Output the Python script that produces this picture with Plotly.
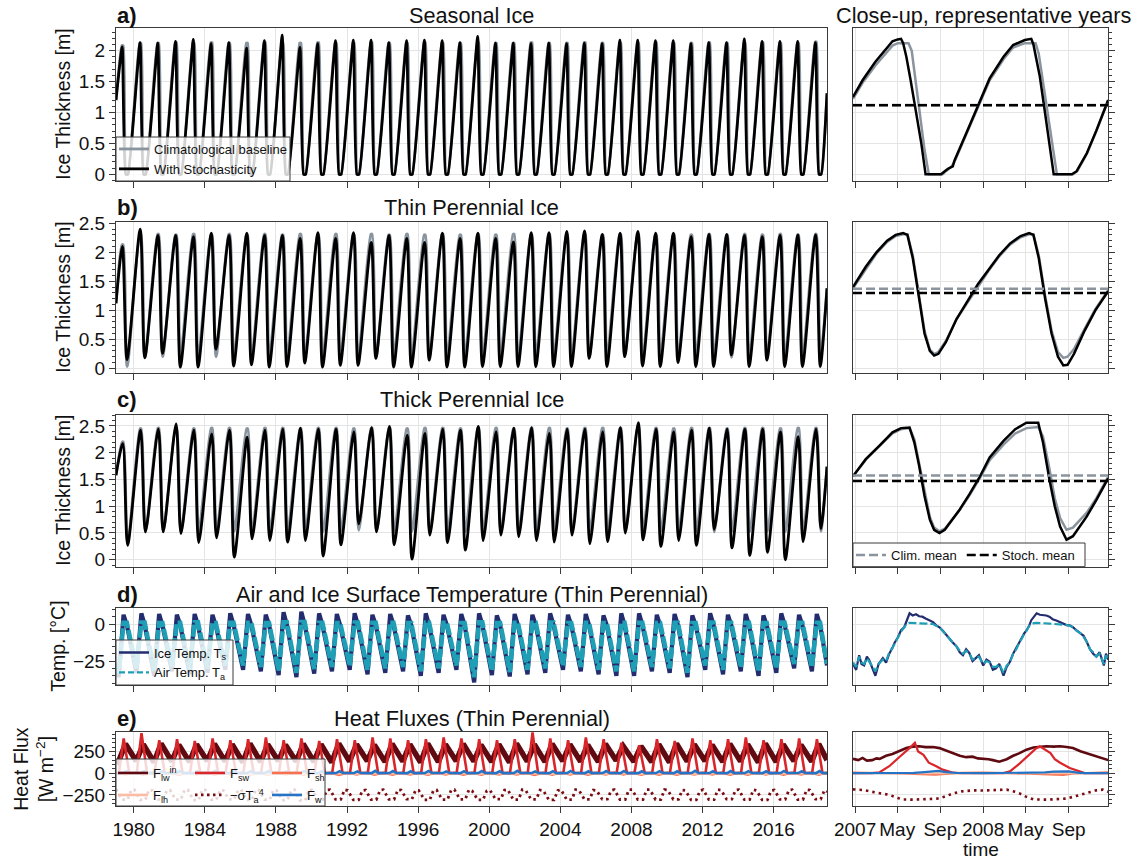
import pandas as pd
import plotly.graph_objects as go

# ---------------------------------------------------------------------------
# Data
# ---------------------------------------------------------------------------
YEARS = list(range(1979, 2019))

# Seasonal ice: annual maximum thickness [m] (minimum is ice free every summer)
SEAS_PEAK_STOCH = [2.06, 2.13, 2.12, 2.15, 2.18, 2.11, 2.13, 2.04, 2.16, 2.25,
                   2.05, 2.11, 2.16, 2.17, 2.17, 2.13, 2.16, 2.17, 2.16, 2.13,
                   2.23, 2.12, 2.12, 2.11, 2.12, 2.11, 2.12, 2.11, 2.17, 2.17,
                   2.16, 2.16, 2.11, 2.13, 2.13, 2.19, 2.15, 2.15, 2.15, 2.13]
SEAS_PEAK_CLIM = [2.08, 2.12, 2.12, 2.13, 2.12, 2.13, 2.12, 2.12, 2.13, 2.12,
                  2.12, 2.13, 2.12, 2.12, 2.13, 2.12, 2.12, 2.13, 2.12, 2.12,
                  2.13, 2.12, 2.12, 2.13, 2.12, 2.12, 2.13, 2.12, 2.12, 2.12,
                  2.13, 2.12, 2.12, 2.13, 2.12, 2.12, 2.13, 2.12, 2.12, 2.14]
ICE_FREE = 0.0
SEAS_START, SEAS_END = 1.20, 1.31

# Thin perennial ice: annual max / min thickness [m]
THIN_PEAK_STOCH = [2.10, 2.40, 2.29, 2.29, 2.27, 2.33, 2.29, 2.33, 2.29, 2.29,
                   2.24, 2.34, 2.24, 2.34, 2.17, 2.29, 2.24, 2.17, 2.33, 2.24,
                   2.33, 2.24, 2.18, 2.34, 2.34, 2.36, 2.37, 2.31, 2.33, 2.36,
                   2.33, 2.33, 2.27, 2.31, 2.31, 2.29, 2.27, 2.29, 2.30, 2.30]
THIN_LOW_STOCH = [0.15, 0.18, 0.26, 0.02, 0.02, 0.33, 0.04, 0.06, 0.02, 0.03,
                  0.09, 0.02, 0.05, 0.05, 0.17, 0.02, 0.02, 0.14, 0.02, 0.02,
                  0.03, 0.03, 0.03, 0.03, 0.03, 0.03, 0.17, 0.03, 0.20, 0.04,
                  0.03, 0.10, 0.03, 0.03, 0.23, 0.03, 0.14, 0.03, 0.03, 0.03]
THIN_PEAK_CLIM = [2.13, 2.30, 2.31, 2.30, 2.31, 2.30, 2.31, 2.30, 2.31, 2.30,
                  2.31, 2.30, 2.31, 2.30, 2.31, 2.30, 2.31, 2.30, 2.31, 2.30,
                  2.31, 2.30, 2.31, 2.30, 2.31, 2.30, 2.31, 2.30, 2.31, 2.31,
                  2.30, 2.31, 2.30, 2.31, 2.30, 2.31, 2.30, 2.31, 2.30, 2.31]
THIN_LOW_CLIM = [0.03, 0.19, 0.20, 0.20, 0.19, 0.20, 0.20, 0.19, 0.20, 0.20,
                 0.19, 0.20, 0.20, 0.19, 0.20, 0.20, 0.19, 0.20, 0.20, 0.19,
                 0.20, 0.20, 0.19, 0.20, 0.20, 0.19, 0.20, 0.20, 0.24, 0.18,
                 0.20, 0.19, 0.20, 0.20, 0.19, 0.20, 0.20, 0.19, 0.20, 0.20]
THIN_START, THIN_END = 1.12, 1.38

# Thick perennial ice: annual max / min thickness [m]
THICK_PEAK_STOCH = [2.17, 2.42, 2.44, 2.54, 2.42, 2.35, 2.42, 2.29, 2.42, 2.44,
                    2.46, 2.44, 2.44, 2.39, 2.47, 2.49, 2.33, 2.36, 2.44, 2.42,
                    2.49, 2.39, 2.46, 2.47, 2.36, 2.44, 2.44, 2.39, 2.47, 2.56,
                    2.44, 2.39, 2.42, 2.46, 2.44, 2.44, 2.44, 2.39, 2.30, 2.44]
THICK_LOW_STOCH = [0.27, 0.52, 0.52, 0.49, 0.32, 0.41, 0.05, 0.39, 0.36, 0.33,
                   0.36, 0.07, 0.28, 0.67, 0.52, 0.28, 0.01, 0.46, 0.32, 0.18,
                   0.36, 0.46, 0.43, 0.36, 0.33, 0.46, 0.30, 0.34, 0.50, 0.37,
                   0.25, 0.36, 0.27, 0.57, 0.22, 0.08, 0.14, 0.00, 0.34, 0.58]
THICK_PEAK_CLIM = [2.20, 2.45, 2.46, 2.46, 2.45, 2.46, 2.46, 2.45, 2.46, 2.46,
                   2.45, 2.46, 2.46, 2.45, 2.46, 2.46, 2.45, 2.46, 2.46, 2.45,
                   2.46, 2.46, 2.45, 2.46, 2.46, 2.45, 2.46, 2.46, 2.46, 2.48,
                   2.46, 2.45, 2.46, 2.46, 2.45, 2.46, 2.46, 2.45, 2.46, 2.46]
THICK_LOW_CLIM = [0.30, 0.52, 0.53, 0.52, 0.53, 0.52, 0.53, 0.52, 0.53, 0.52,
                  0.53, 0.52, 0.53, 0.55, 0.53, 0.52, 0.53, 0.52, 0.53, 0.52,
                  0.53, 0.52, 0.53, 0.52, 0.53, 0.52, 0.53, 0.52, 0.53, 0.56,
                  0.53, 0.52, 0.53, 0.52, 0.53, 0.52, 0.53, 0.52, 0.53, 0.53]
THICK_START, THICK_END = 1.58, 1.74

# Surface temperatures (thin perennial) [degC]
TS_MAX = [6.5, 7.5, 7.0, 6.5, 7.0, 6.5, 7.5, 7.0, 6.5, 8.2, 8.6, 7.5, 7.0, 7.5,
          6.5, 7.0, 6.0, 7.5, 6.5, 7.0, 7.5, 6.0, 7.0, 6.5, 7.5, 6.5, 7.0, 6.0,
          7.5, 7.5, 6.5, 7.0, 6.0, 7.5, 6.5, 7.0, 6.0, 7.5, 6.5, 7.0]
TS_AUG = [-0.5, -0.3, -0.6, -0.4, -0.5, -0.7, -0.3, -0.5, -0.4, -0.2, -0.1, -0.5,
          -0.6, -0.4, -0.5, -0.3, -0.7, -0.4, -0.5, -0.6, -0.3, -0.7, -0.4, -0.5,
          -0.3, -0.6, -0.5, -0.7, -0.7, -0.5, -0.6, -0.4, -0.7, -0.3, -0.5, -0.4,
          -0.7, -0.3, -0.5, -0.5]
TS_MIN = [-36, -33, -35, -32, -34, -33, -31, -31, -32, -34.5, -36, -33.5, -32,
          -31, -34, -33, -32, -35, -33, -31, -39.5, -34.5, -35.5, -34, -33, -31,
          -32, -34, -35, -35, -32, -33, -36, -31, -34, -32, -35, -33, -30, -32]
TA_MAX = [1.0, 1.2, 0.8, 1.0, 1.3, 0.9, 1.1, 1.0, 0.8, 1.4, 1.5, 1.0, 0.9, 1.2,
          1.0, 1.1, 0.8, 1.2, 1.0, 0.9, 1.3, 0.8, 1.1, 1.0, 1.2, 0.9, 1.0, 0.8,
          1.0, 1.0, 0.9, 1.1, 0.8, 1.2, 1.0, 1.1, 0.8, 1.2, 1.0, 1.0]
TA_MIN = [-33, -30, -32, -29, -31, -30, -28, -28, -29, -31.5, -33, -30.5, -29,
          -28, -31, -30, -29, -32, -30, -28, -36, -31.5, -32.5, -31, -30, -28,
          -29, -31, -32, -32, -29, -30, -33, -28, -31, -29, -32, -30, -27, -29]
TS_START, TS_END = -28.0, -28.0
TA_START, TA_END = -27.0, -27.0

# Heat fluxes (thin perennial) [W m-2]
FLW_MAX = [335, 330, 340, 325, 330, 335, 330, 340, 330, 325, 335, 330, 340, 330,
           325, 335, 330, 340, 330, 335, 325, 330, 340, 330, 335, 330, 325, 335,
           310, 310, 330, 340, 330, 325, 335, 330, 340, 330, 325, 335]
FLW_MIN = [130, 140, 125, 135, 130, 140, 135, 125, 130, 140, 135, 130, 125, 135,
           140, 130, 135, 125, 130, 140, 135, 130, 125, 135, 130, 140, 135, 130,
           145, 132, 130, 125, 135, 140, 130, 135, 125, 130, 140, 135]
FSW_PEAK = [400, 460, 380, 390, 370, 400, 380, 390, 410, 380, 400, 370, 390, 380,
            410, 400, 380, 390, 410, 400, 390, 380, 390, 470, 400, 380, 410, 390,
            350, 320, 390, 370, 400, 380, 390, 410, 380, 390, 400, 390]
POLAR_NIGHT_SW = 0.0
FSH_WIN = [5, 6, 4, 5, 7, 5, 6, 4, 5, 6, 5, 4, 6, 5, 7, 5, 4, 6, 5, 5,
           6, 4, 5, 6, 5, 7, 4, 5, 8, 5, 6, 5, 4, 6, 5, 5, 7, 4, 6, 5]
FSH_SUM = [-18, -20, -15, -22, -18, -20, -16, -19, -21, -17, -20, -18, -22, -16,
           -19, -20, -18, -21, -17, -19, -20, -18, -16, -22, -19, -18, -20, -17,
           -18, -20, -19, -21, -17, -18, -20, -19, -16, -21, -18, -20]
FLH_WIN = [-1, 0, -1, 0, -1, 0, 0, -1, 0, -1, 0, 0, -1, 0, -1, 0, 0, -1, 0, -1,
           0, -1, 0, 0, -1, 0, -1, 0, 0, 0, -1, 0, -1, 0, 0, -1, 0, -1, 0, 0]
FLH_SUM = [-7, -8, -6, -7, -8, -6, -7, -8, -7, -6, -8, -7, -6, -8, -7, -7, -6,
           -8, -7, -6, -8, -7, -6, -7, -8, -7, -6, -8, -6, -8, -7, -6, -8, -7,
           -6, -7, -8, -6, -7, -8]
FW_WIN = [1, 0, 1, 1, 0, 1, 0, 1, 1, 0, 1, 0, 1, 1, 0, 1, 0, 1, 1, 0,
          1, 0, 1, 1, 0, 1, 0, 1, 0, 0, 1, 0, 1, 1, 0, 1, 0, 1, 1, 0]
FW_SUM = [22, 24, 20, 25, 22, 26, 21, 23, 24, 20, 25, 22, 23, 21, 26, 24, 22, 25,
          21, 23, 24, 22, 26, 20, 23, 25, 21, 24, 25, 22, 23, 21, 26, 22, 24, 23,
          21, 25, 22, 24]
SIG_WIN = [-195, -190, -200, -195, -190, -195, -200, -190, -195, -200, -190, -195,
           -190, -200, -195, -190, -195, -200, -195, -190, -205, -195, -190, -195,
           -200, -190, -195, -200, -190, -190, -190, -195, -200, -190, -195, -190,
           -200, -195, -190, -195]
SIG_SUM = [-305, -308, -302, -305, -310, -305, -302, -308, -305, -310, -312, -305,
           -302, -308, -305, -302, -300, -308, -305, -302, -308, -300, -305, -302,
           -308, -305, -302, -300, -304, -304, -305, -302, -308, -305, -300, -305,
           -308, -302, -305, -300]
FLUX_START = dict(lw=160, sw=0, sh=6, lh=0, w=0, sig=-190)
FLUX_END = dict(lw=150, sw=0, sh=8, lh=0, w=0, sig=-215)

# Close-up window (months since 2007-01-01)
CU_A_STOCH_M = [-0.2, 0.7, 1.9, 2.9, 3.5, 4.0, 4.3, 4.5, 4.8, 5.2, 5.7, 6.2, 6.6,
                8.05, 8.4, 8.7, 9.15, 9.3, 10.4, 11.7, 12.6, 13.9, 14.8, 15.9,
                16.5, 16.7, 17.3, 17.75, 18.2, 18.6, 20.3, 20.75, 21.7, 22.6, 23.7]
CU_A_STOCH = [1.25, 1.52, 1.82, 2.02, 2.15, 2.18, 2.19, 2.12, 1.90, 1.52, 1.04,
              0.50, 0.00, 0.00, 0.05, 0.09, 0.13, 0.22, 0.66, 1.20, 1.55, 1.90,
              2.09, 2.17, 2.19, 2.10, 1.58, 1.04, 0.44, 0.00, 0.00, 0.05, 0.34,
              0.71, 1.20]
CU_A_CLIM_M = [-0.2, 0.7, 1.9, 2.9, 3.5, 4.0, 5.0, 5.3, 5.6, 6.0, 6.5, 6.9, 8.2,
               8.5, 9.0, 9.3, 10.4, 11.7, 12.6, 13.9, 14.8, 15.9, 16.9, 17.2,
               17.6, 18.1, 18.6, 18.9, 20.4, 20.8, 21.7, 22.6, 23.7]
CU_A_CLIM = [1.22, 1.48, 1.76, 1.97, 2.08, 2.12, 2.12, 2.00, 1.60, 1.00, 0.40,
             0.00, 0.00, 0.05, 0.12, 0.20, 0.64, 1.17, 1.52, 1.86, 2.05, 2.12,
             2.12, 1.95, 1.50, 0.90, 0.30, 0.00, 0.00, 0.05, 0.33, 0.70, 1.19]

CU_B_M = [-0.2, 1.0, 2.0, 3.0, 3.8, 4.5, 4.9, 5.4, 6.0, 6.5, 7.0, 7.4, 7.8, 8.5,
          9.5, 10.5, 11.5, 12.5, 13.5, 14.5, 15.5, 16.3, 16.7, 17.2, 17.8, 18.4,
          19.0, 19.5, 19.9, 20.5, 21.5, 22.5, 23.7]
CU_B_STOCH = [1.40, 1.75, 2.00, 2.20, 2.30, 2.33, 2.30, 1.90, 1.20, 0.60, 0.30,
              0.22, 0.25, 0.45, 0.85, 1.15, 1.45, 1.70, 1.95, 2.15, 2.28, 2.33,
              2.30, 1.90, 1.20, 0.60, 0.20, 0.05, 0.06, 0.25, 0.65, 1.00, 1.33]
CU_B_CLIM = [1.38, 1.72, 1.98, 2.18, 2.28, 2.31, 2.31, 1.95, 1.25, 0.65, 0.32,
             0.25, 0.28, 0.47, 0.85, 1.13, 1.42, 1.68, 1.93, 2.13, 2.26, 2.31,
             2.31, 1.95, 1.25, 0.65, 0.28, 0.18, 0.20, 0.33, 0.68, 1.02, 1.34]

CU_C_M = [-0.2, 1.0, 2.26, 3.5, 4.3, 5.1, 5.55, 6.0, 6.5, 7.0, 7.4, 7.9, 8.4, 9.8,
          10.7, 11.7, 12.6, 13.9, 15.0, 16.05, 17.15, 17.6, 18.2, 18.7, 19.2,
          19.8, 20.4, 21.7, 22.6, 23.7]
CU_C_STOCH = [1.56, 1.88, 2.13, 2.38, 2.46, 2.47, 2.19, 1.75, 1.19, 0.75, 0.56,
              0.50, 0.56, 0.94, 1.22, 1.56, 1.91, 2.22, 2.44, 2.56, 2.56, 2.19,
              1.50, 1.00, 0.62, 0.375, 0.44, 0.81, 1.12, 1.52]
CU_C_CLIM = [1.56, 1.87, 2.12, 2.36, 2.44, 2.46, 2.25, 1.80, 1.25, 0.80, 0.60,
             0.53, 0.58, 0.93, 1.20, 1.53, 1.86, 2.15, 2.36, 2.46, 2.48, 2.30,
             1.70, 1.15, 0.78, 0.56, 0.60, 0.88, 1.15, 1.55]

# Long-term means shown in the close-ups [m]
MEAN_CLIM = [1.12, 1.37, 1.575]
MEAN_STOCH = [1.115, 1.30, 1.47]

CU_T_M = [-0.2, 0.1, 0.38, 0.6, 0.85, 1.1, 1.3, 1.6, 1.9, 2.2, 2.6, 2.9, 3.2,
          3.5, 3.7, 4.0, 4.3, 4.6, 4.8, 5.1, 5.4, 5.7, 6.0, 6.3, 6.6, 7.0, 7.3,
          7.6, 7.9, 8.2, 8.5, 8.8, 9.1, 9.5, 9.8, 10.1, 10.4, 10.7, 11.0, 11.3,
          11.6, 12.0, 12.3, 12.6, 12.9, 13.2, 13.5, 13.9, 14.2, 14.5, 14.8, 15.1,
          15.4, 15.6, 15.85, 16.05, 16.3, 16.5, 16.75, 17.0, 17.3, 17.6, 17.9,
          18.2, 18.5, 18.9, 19.2, 19.5, 19.8, 20.1, 20.4, 20.75, 21.1, 21.4,
          21.7, 22.0, 22.3, 22.6, 22.9, 23.3, 23.5, 23.7]
CU_TS = [-27, -31, -21, -27, -28, -22, -24, -30, -35, -27, -23, -26, -20, -16,
         -12.5, -9, -4, -2, 1.6, 7.5, 6, 6.8, 5.5, 5.2, 4, 2.8, 1.5, -0.7, -2,
         -4.2, -7, -10, -12, -15, -19, -21, -17, -19.6, -25, -23, -21, -28, -24,
         -25.5, -31, -30, -27, -35, -29, -25.5, -20, -16, -12, -9, -6, -4.2, -1,
         2.8, 5, 7.5, 6.5, 6.4, 6, 5.2, 3.5, 2.4, 1.5, 0.5, -0.5, -0.7, -2, -4.2,
         -6, -7.8, -12, -17, -20, -22, -19, -28, -20, -24]
CU_TA = [-26, -29, -22, -26, -27, -23, -25, -29, -32, -27, -24, -25, -19, -16,
         -13, -9, -5, -2, 0, 1, 1, 1, 0.8, 0.8, 0.5, 0.3, 0.2, -1, -2, -4.5, -7,
         -10, -12, -15, -18, -20, -18, -20, -24, -23, -22, -27, -25, -26, -29,
         -29, -27, -33, -28, -26, -20, -17, -12, -10, -6, -4.5, -1, 0, 0.8, 1, 1,
         0.8, 0.8, 0.5, 0.3, 0.2, 0, 0, -0.5, -1, -2, -4.5, -6, -8.5, -12, -17,
         -19, -22, -20, -27, -21, -24]

CU_LW_M = [-0.2, 0.3, 0.7, 1.1, 1.6, 2.0, 2.3, 2.9, 3.5, 4.1, 4.8, 5.4, 6.0, 6.6,
           7.3, 7.9, 8.5, 9.2, 9.8, 10.4, 11.0, 11.5, 12.0, 12.5, 12.9, 13.5,
           14.2, 14.8, 15.4, 16.05, 16.7, 17.3, 17.9, 18.6, 19.2, 19.8, 20.4,
           21.1, 21.7, 22.3, 22.9, 23.3, 23.7]
CU_LW = [165, 150, 175, 145, 150, 170, 165, 200, 220, 253, 290, 305, 310, 300,
         300, 288, 260, 219, 200, 184, 190, 170, 167, 160, 150, 132, 160, 200,
         230, 270, 295, 300, 310, 305, 310, 300, 290, 253, 230, 200, 180, 165, 150]
CU_SW_M = [-0.2, 1.6, 2.3, 3.2, 4.1, 4.7, 5.2, 5.6, 5.9, 6.4, 6.9, 7.6, 8.2, 9.2,
           9.8, 13.9, 14.5, 15.4, 16.3, 16.9, 17.3, 17.8, 18.3, 18.7, 19.2, 20.1,
           21.1, 21.5, 23.7]
CU_SW = [0, 0, 10, 80, 180, 240, 300, 350, 250, 210, 120, 80, 40, 5, 0, 0, 20,
         110, 210, 280, 310, 270, 230, 160, 120, 60, 15, 0, 0]
CU_SH_M = [-0.2, 1.5, 3.0, 4.5, 5.5, 6.5, 7.5, 8.5, 10.0, 12.0, 13.5, 15.0, 16.5,
           17.5, 18.5, 19.5, 20.5, 22.0, 23.7]
CU_SH = [8, 5, 5, -5, -10, -15, -18, -10, 5, 8, 5, 0, -8, -12, -18, -20, -5, 5, 10]
CU_LH_M = [-0.2, 4.0, 6.0, 8.0, 10.0, 12.0, 16.0, 18.0, 20.0, 22.0, 23.7]
CU_LH = [0, -2, -6, -8, -2, 0, -2, -6, -8, -2, 0]
CU_W_M = [-0.2, 4.0, 5.5, 6.5, 7.2, 7.8, 8.5, 9.5, 12.0, 16.5, 17.8, 18.6, 19.3,
          20.0, 20.8, 21.5, 23.7]
CU_W = [0, 0, 3, 12, 22, 25, 12, 2, 0, 0, 8, 18, 22, 20, 6, 1, 0]
CU_SIG_M = [-0.2, 0.8, 1.6, 2.5, 3.2, 4.0, 4.4, 5.5, 6.6, 7.3, 7.9, 8.6, 9.2,
            10.0, 11.0, 12.0, 12.6, 13.5, 14.2, 15.0, 15.4, 16.0, 16.7, 18.0,
            19.0, 19.8, 20.5, 21.1, 22.0, 22.6, 23.2, 23.7]
CU_SIG = [-187, -195, -215, -235, -250, -285, -302, -305, -302, -300, -292, -260,
          -233, -210, -198, -200, -198, -195, -190, -215, -233, -270, -302, -305,
          -300, -292, -270, -250, -215, -198, -190, -215]

MAIN_RANGE = ["1979-01-01", "2019-01-01"]
MAIN_TICK_YEARS = list(range(1980, 2017, 4))
CU_ORIGIN = pd.Timestamp("2007-01-01")
CU_RANGE = ["2006-12-26", "2008-12-22"]
CU_TICKS = ["2007-01-01", "2007-05-01", "2007-09-01", "2008-01-01", "2008-05-01", "2008-09-01"]
CU_TICKTEXT = ["2007", "May", "Sep", "2008", "May", "Sep"]

# ---------------------------------------------------------------------------
# Helpers
# ---------------------------------------------------------------------------
def annual_series(start, end, phases):
    """Connect per-year values placed at fixed calendar dates."""
    xs = [pd.Timestamp(f"{YEARS[0]}-01-01")]
    ys = [start]
    for i, yr in enumerate(YEARS):
        for md, vals in phases:
            v = vals[i] if isinstance(vals, (list, tuple)) else vals
            xs.append(pd.Timestamp(f"{yr}-{md}"))
            ys.append(v)
    xs.append(pd.Timestamp(f"{YEARS[-1] + 1}-01-01"))
    ys.append(end)
    return xs, ys


def cu_dates(months):
    return [CU_ORIGIN + pd.Timedelta(days=m * 30.44) for m in months]


FONT = "Liberation Sans"
INK = "#111111"
FRAME = "#3a3a3a"
GRID = "#e4e4e4"
GRAY = "#8a949e"
BLACK = "#000000"
NAVY = "#232c6e"
TEAL = "#1f9fb6"
C_LW = "#5f0a10"
C_SW = "#d9262a"
C_SH = "#f7704f"
C_LH = "#fcbca4"
C_SIG = "#7a0c12"
C_W = "#2573c4"

W, H = 1141, 860
MAIN_X = (116, 827)
CU_X = (853, 1108)
ROWS = [
    dict(top=28.3, bot=181.0, yr=[-0.108, 2.36], tv=[0, 0.5, 1, 1.5, 2],
         tt=["0", "0.5", "1", "1.5", "2"], minor=0.1),
    dict(top=222.3, bot=373.3, yr=[-0.086, 2.517], tv=[0, 0.5, 1, 1.5, 2, 2.5],
         tt=["0", "0.5", "1", "1.5", "2", "2.5"], minor=0.1),
    dict(top=415.0, bot=566.7, yr=[-0.13, 2.705], tv=[0, 0.5, 1, 1.5, 2, 2.5],
         tt=["0", "0.5", "1", "1.5", "2", "2.5"], minor=0.1),
    dict(top=608.3, bot=685.0, yr=[-41.3, 10.9], tv=[-25, 0],
         tt=["\u221225", "0"], minor=5),
    dict(top=731.7, bot=806.0, yr=[-378, 477], tv=[-250, 0, 250],
         tt=["\u2212250", "0", "250"], minor=50),
]

fig = go.Figure()


def add_line(x, y, ax, color, width, dash=None, name=None, legend=None,
             shape="linear", smoothing=None):
    ln = dict(color=color, width=width, dash=dash, shape=shape)
    if smoothing is not None:
        ln["smoothing"] = smoothing
    fig.add_trace(go.Scatter(
        x=x, y=y, mode="lines", xaxis=f"x{ax}", yaxis=f"y{ax}", line=ln,
        name=name, showlegend=legend is not None,
        legend=legend if legend else "legend", hoverinfo="skip"))


def add_key(name, ax, color, width, legend, dash=None):
    """Legend-only entry (no data points)."""
    fig.add_trace(go.Scatter(
        x=[None], y=[None], mode="lines", xaxis=f"x{ax}", yaxis=f"y{ax}",
        line=dict(color=color, width=width, dash=dash), name=name,
        showlegend=True, legend=legend, hoverinfo="skip"))


# ---------------------------------------------------------------------------
# Ice thickness panels (a-c)
# ---------------------------------------------------------------------------
ice_main = [
    (annual_series(SEAS_START, SEAS_END, [("05-01", SEAS_PEAK_CLIM), ("05-31", SEAS_PEAK_CLIM),
                                           ("07-27", ICE_FREE), ("09-06", ICE_FREE)]),
     annual_series(SEAS_START, SEAS_END, [("05-08", SEAS_PEAK_STOCH), ("07-20", ICE_FREE),
                                           ("09-03", ICE_FREE)])),
    (annual_series(THIN_START, THIN_END, [("05-05", THIN_PEAK_CLIM), ("05-28", THIN_PEAK_CLIM),
                                           ("08-18", THIN_LOW_CLIM)]),
     annual_series(THIN_START, THIN_END, [("05-12", THIN_PEAK_STOCH), ("08-15", THIN_LOW_STOCH)])),
    (annual_series(THICK_START, THICK_END, [("05-10", THICK_PEAK_CLIM), ("06-01", THICK_PEAK_CLIM),
                                             ("08-28", THICK_LOW_CLIM)]),
     annual_series(THICK_START, THICK_END, [("05-20", THICK_PEAK_STOCH), ("08-28", THICK_LOW_STOCH)])),
]
ice_smooth = [0.45, 0.8, 0.8]
ice_cu = [
    ((CU_A_CLIM_M, CU_A_CLIM), (CU_A_STOCH_M, CU_A_STOCH)),
    ((CU_B_M, CU_B_CLIM), (CU_B_M, CU_B_STOCH)),
    ((CU_C_M, CU_C_CLIM), (CU_C_M, CU_C_STOCH)),
]
cu_span = [pd.Timestamp(CU_RANGE[0]), pd.Timestamp(CU_RANGE[1])]

for r in range(3):
    am, ac = 2 * r + 1, 2 * r + 2
    (xc, yc), (xs, ys) = ice_main[r]
    add_line(xc, yc, am, GRAY, 2.8, name="Climatological baseline",
             legend="legend" if r == 0 else None, shape="spline", smoothing=ice_smooth[r])
    add_line(xs, ys, am, BLACK, 2.8, name="With Stochasticity",
             legend="legend" if r == 0 else None, shape="spline", smoothing=ice_smooth[r])
    (mc, vc), (ms, vs) = ice_cu[r]
    add_line(cu_dates(mc), vc, ac, GRAY, 2.5)
    add_line(cu_dates(ms), vs, ac, BLACK, 2.5)
    add_line(cu_span, [MEAN_CLIM[r]] * 2, ac, GRAY, 2.5, dash="9px,4px",
             name="Clim. mean", legend="legend2" if r == 2 else None)
    add_line(cu_span, [MEAN_STOCH[r]] * 2, ac, BLACK, 2.5, dash="9px,4px",
             name="Stoch. mean", legend="legend2" if r == 2 else None)

# ---------------------------------------------------------------------------
# Temperature panel (d)
# ---------------------------------------------------------------------------
ts_x, ts_y = annual_series(TS_START, TS_END, [("02-25", TS_MIN), ("06-05", TS_MAX),
                                              ("08-12", TS_AUG)])
ta_x, ta_y = annual_series(TA_START, TA_END, [("02-25", TA_MIN), ("06-05", TA_MAX),
                                              ("08-12", TA_MAX)])
add_line(ts_x, ts_y, 7, NAVY, 4.2)
add_line(ta_x, ta_y, 7, TEAL, 4.6, dash="12px,2px")
add_line(cu_dates(CU_T_M), CU_TS, 8, NAVY, 2.2)
add_line(cu_dates(CU_T_M), CU_TA, 8, TEAL, 2.2, dash="8px,3px")
add_key("Ice Temp. T<sub>s</sub>", 7, NAVY, 2.4, "legend3")
add_key("Air Temp. T<sub>a</sub>", 7, TEAL, 2.4, "legend3", dash="6px,3px")

# ---------------------------------------------------------------------------
# Heat flux panel (e)
# ---------------------------------------------------------------------------
lw_x, lw_y = annual_series(FLUX_START["lw"], FLUX_END["lw"], [("02-20", FLW_MIN), ("07-15", FLW_MAX)])
sw_x, sw_y = annual_series(FLUX_START["sw"], FLUX_END["sw"], [("03-01", POLAR_NIGHT_SW),
                                                              ("06-08", FSW_PEAK),
                                                              ("10-01", POLAR_NIGHT_SW)])
sh_x, sh_y = annual_series(FLUX_START["sh"], FLUX_END["sh"], [("01-15", FSH_WIN), ("07-20", FSH_SUM)])
lh_x, lh_y = annual_series(FLUX_START["lh"], FLUX_END["lh"], [("01-15", FLH_WIN), ("07-15", FLH_SUM)])
sg_x, sg_y = annual_series(FLUX_START["sig"], FLUX_END["sig"], [("01-15", SIG_WIN), ("05-10", SIG_SUM),
                                                                ("08-25", SIG_SUM), ("11-10", SIG_WIN)])
w_x, w_y = annual_series(FLUX_START["w"], FLUX_END["w"], [("05-20", FW_WIN), ("08-01", FW_SUM),
                                                          ("10-10", FW_WIN)])

add_line(lw_x, lw_y, 9, C_LW, 5.5)
add_line(sw_x, sw_y, 9, C_SW, 2.6)
add_line(sh_x, sh_y, 9, C_SH, 2.2)
add_line(lh_x, lh_y, 9, C_LH, 2.2)
add_line(sg_x, sg_y, 9, C_SIG, 2.8, dash="2.5px,3.5px")
add_line(w_x, w_y, 9, C_W, 2.6)

add_line(cu_dates(CU_LW_M), CU_LW, 10, C_LW, 2.6)
add_line(cu_dates(CU_SW_M), CU_SW, 10, C_SW, 2.2)
add_line(cu_dates(CU_SH_M), CU_SH, 10, C_SH, 2.0)
add_line(cu_dates(CU_LH_M), CU_LH, 10, C_LH, 2.0)
add_line(cu_dates(CU_SIG_M), CU_SIG, 10, C_SIG, 2.6, dash="2.5px,4px")
add_line(cu_dates(CU_W_M), CU_W, 10, C_W, 2.2)

add_key("F<sub>lw</sub><sup>in</sup>", 9, C_LW, 2.6, "legend4")
add_key("F<sub>sw</sub>", 9, C_SW, 2.6, "legend4")
add_key("F<sub>sh</sub>", 9, C_SH, 2.6, "legend4")
add_key("F<sub>lh</sub>", 9, C_LH, 2.6, "legend5")
add_key("\u2212\u03c3T<sub>a</sub><sup>4</sup>", 9, C_SIG, 2.8, "legend5", dash="2.5px,3.5px")
add_key("F<sub>w</sub>", 9, C_W, 2.6, "legend5")

# ---------------------------------------------------------------------------
# Layout
# ---------------------------------------------------------------------------
def px_x(v):
    return v / W


def px_y(v):
    return 1 - v / H


tick_font = dict(family=FONT, size=19, color=INK)
layout = dict(
    width=W, height=H, margin=dict(l=0, r=0, t=0, b=0, autoexpand=False),
    plot_bgcolor="white", paper_bgcolor="white",
    font=dict(family=FONT, size=18, color=INK),
    showlegend=True,
)

for r, row in enumerate(ROWS):
    am, ac = 2 * r + 1, 2 * r + 2
    ydom = [px_y(row["bot"]), px_y(row["top"])]
    common_x = dict(showline=True, mirror=True, linecolor=FRAME, linewidth=1,
                    ticks="outside", ticklen=6, tickcolor=FRAME, tickwidth=1,
                    showgrid=True, gridcolor=GRID, gridwidth=1, zeroline=False,
                    tickfont=tick_font, type="date", tickmode="array",
                    automargin=False)
    layout[f"xaxis{am}"] = dict(common_x, domain=[px_x(MAIN_X[0]), px_x(MAIN_X[1])],
                                anchor=f"y{am}", range=MAIN_RANGE,
                                tickvals=[f"{y}-01-01" for y in MAIN_TICK_YEARS],
                                ticktext=[str(y) for y in MAIN_TICK_YEARS],
                                showticklabels=(r == 4))
    layout[f"xaxis{ac}"] = dict(common_x, domain=[px_x(CU_X[0]), px_x(CU_X[1])],
                                anchor=f"y{ac}", range=CU_RANGE,
                                tickvals=CU_TICKS, ticktext=CU_TICKTEXT,
                                showticklabels=(r == 4))
    common_y = dict(showline=True, mirror=True, linecolor=FRAME, linewidth=1,
                    ticks="outside", ticklen=6, tickcolor=FRAME, tickwidth=1,
                    showgrid=True, gridcolor=GRID, gridwidth=1, zeroline=False,
                    tickfont=tick_font, tickmode="array", tickvals=row["tv"],
                    ticktext=row["tt"], domain=ydom, automargin=False,
                    minor=dict(tickmode="linear", tick0=0, dtick=row["minor"],
                               ticks="outside", ticklen=3, tickcolor=FRAME,
                               showgrid=False))
    layout[f"yaxis{am}"] = dict(common_y, anchor=f"x{am}", range=row["yr"])
    layout[f"yaxis{ac}"] = dict(common_y, anchor=f"x{ac}", range=row["yr"],
                                side="right", showticklabels=False,
                                matches=f"y{am}")

# Legends: entries drawn by plotly, frames drawn as translucent boxes
LEG_SHIFT = -2
leg_font = dict(family=FONT, size=13, color=INK)
leg_common = dict(bgcolor="rgba(0,0,0,0)", borderwidth=0, font=leg_font,
                  itemwidth=30, tracegroupgap=0, xanchor="left",
                  yanchor="middle", traceorder="normal")
boxes = {
    "legend": (116, 290, 137, 181),
    "legend2": (853, 1085, 543, 566.7),
    "legend3": (116, 233, 640, 685),
    "legend_e": (116, 325, 759, 806),
}
layout["legend"] = dict(leg_common, x=px_x(116 + LEG_SHIFT), y=px_y(159))
layout["legend2"] = dict(leg_common, x=px_x(853 + LEG_SHIFT), y=px_y(555), orientation="h")
layout["legend3"] = dict(leg_common, x=px_x(116 + LEG_SHIFT), y=px_y(662.5))
layout["legend4"] = dict(leg_common, x=px_x(116 + LEG_SHIFT - 1), y=px_y(773),
                         orientation="h", entrywidth=32, entrywidthmode="pixels")
layout["legend5"] = dict(leg_common, x=px_x(116 + LEG_SHIFT - 1), y=px_y(795),
                         orientation="h", entrywidth=32, entrywidthmode="pixels")

layout["shapes"] = [
    dict(type="rect", xref="paper", yref="paper", layer="above",
         x0=px_x(x0), x1=px_x(x1), y0=px_y(y1), y1=px_y(y0),
         fillcolor="rgba(255,255,255,0.82)", line=dict(color=FRAME, width=1))
    for (x0, x1, y0, y1) in boxes.values()
]

titles = ["Seasonal Ice", "Thin Perennial Ice", "Thick Perennial Ice",
          "Air and Ice Surface Temperature (Thin Perennial)",
          "Heat Fluxes (Thin Perennial)"]
letters = ["a)", "b)", "c)", "d)", "e)"]
title_y = [16, 207, 400, 594, 718]
ann = []
for t, l, ty in zip(titles, letters, title_y):
    ann.append(dict(text=t, x=px_x((MAIN_X[0] + MAIN_X[1]) / 2), y=px_y(ty),
                    xref="paper", yref="paper", showarrow=False, xanchor="center",
                    yanchor="middle", font=dict(family=FONT, size=21.7, color=INK)))
    ann.append(dict(text=f"<b>{l}</b>", x=px_x(115), y=px_y(ty), xref="paper",
                    yref="paper", showarrow=False, xanchor="left", yanchor="middle",
                    font=dict(family=FONT, size=22, color=INK)))
ann.append(dict(text="Close-up, representative years", x=px_x(983), y=px_y(16),
                xref="paper", yref="paper", showarrow=False, xanchor="center",
                yanchor="middle", font=dict(family=FONT, size=21.7, color=INK)))
ann.append(dict(text="time", x=px_x(981), y=px_y(849), xref="paper", yref="paper",
                showarrow=False, xanchor="center", yanchor="middle",
                font=dict(family=FONT, size=19, color=INK)))
for r in range(3):
    ann.append(dict(text="Ice Thickness [m]", x=px_x(63),
                    y=px_y((ROWS[r]["top"] + ROWS[r]["bot"]) / 2), xref="paper",
                    yref="paper", showarrow=False, textangle=-90, xanchor="center",
                    yanchor="middle", font=dict(family=FONT, size=19.5, color=INK)))
ann.append(dict(text="Temp. [\u00b0C]", x=px_x(58), y=px_y((ROWS[3]["top"] + ROWS[3]["bot"]) / 2),
                xref="paper", yref="paper", showarrow=False, textangle=-90,
                xanchor="center", yanchor="middle",
                font=dict(family=FONT, size=19.5, color=INK)))
ann.append(dict(text="Heat Flux<br>[W m<sup>\u22122</sup>]", x=px_x(34),
                y=px_y((ROWS[4]["top"] + ROWS[4]["bot"]) / 2),
                xref="paper", yref="paper", showarrow=False, textangle=-90,
                xanchor="center", yanchor="middle",
                font=dict(family=FONT, size=19.5, color=INK)))
layout["annotations"] = ann

fig.update_layout(**layout)
fig.write_html("out.html")
